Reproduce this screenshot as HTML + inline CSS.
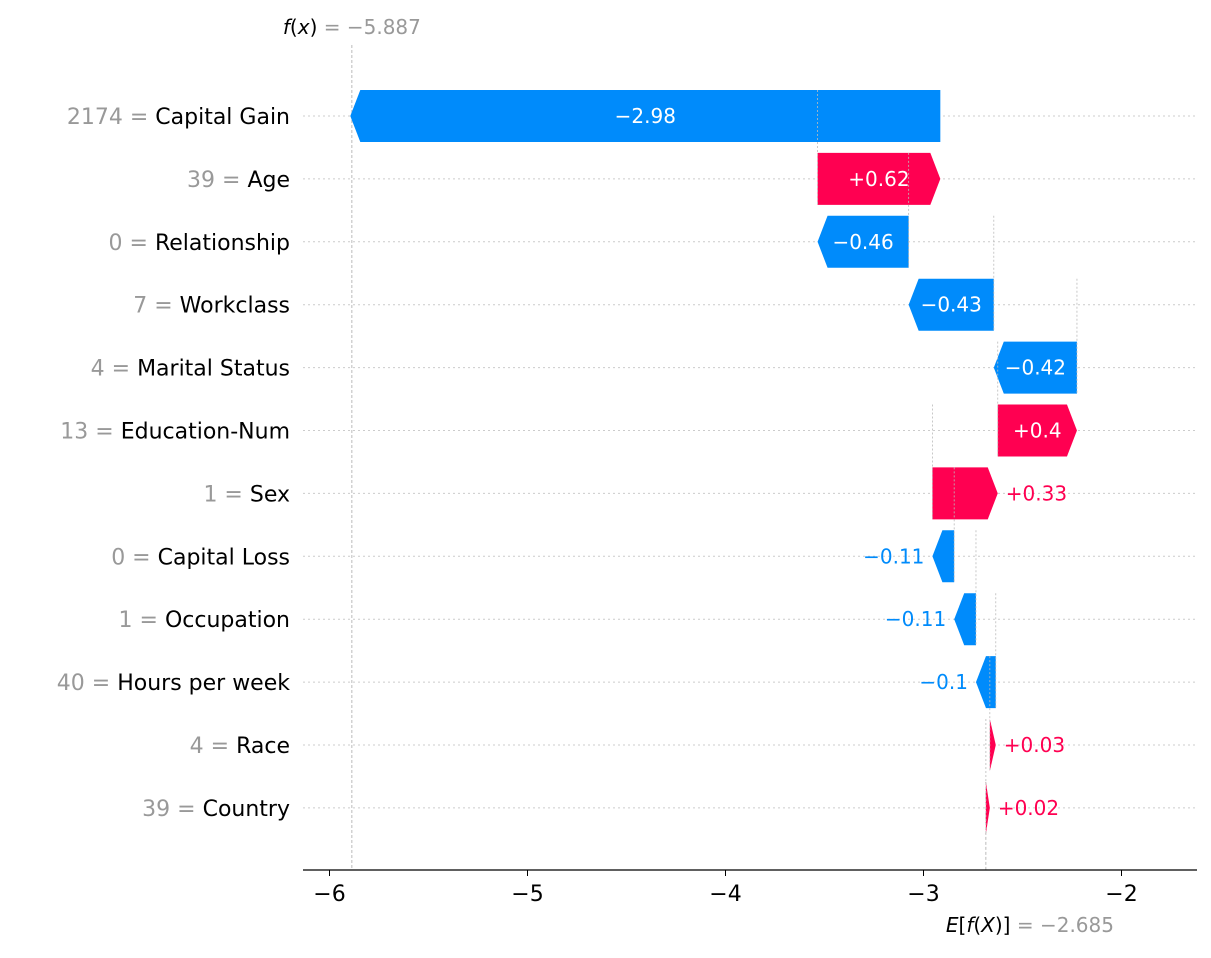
<!DOCTYPE html>
<html><head><meta charset="utf-8"><style>
body{margin:0;background:#fff}
svg{font-family:"DejaVu Sans","Liberation Sans",sans-serif}
</style></head><body>
<svg id="chart" width="1211" height="953" viewBox="0 0 1211 953" xmlns="http://www.w3.org/2000/svg"></svg>
<script>
const features = ["Capital Gain","Age","Relationship","Workclass","Marital Status","Education-Num","Sex","Capital Loss","Occupation","Hours per week","Race","Country"];
const featureValues = ["2174","39","0","7","4","13","1","0","1","40","4","39"];
const shapValues = [-2.98,0.62,-0.46,-0.43,-0.42,0.4,0.33,-0.11,-0.11,-0.1,0.03,0.02];
const baseValue = -2.685;
const fxValue = -5.887;
const xTicks = [-6,-5,-4,-3,-2];

const NS="http://www.w3.org/2000/svg";
const svg=document.getElementById('chart');
const x0=329.5, k=198;
const X=v=>x0+(v+6)*k;
const rowY=i=>116+i*62.9;
const BH=52, BLUE="#008bfb", RED="#ff0051";
function el(t,a,txt){const e=document.createElementNS(NS,t);for(const p in a)e.setAttribute(p,a[p]);if(txt!==undefined)e.textContent=txt;svg.appendChild(e);return e;}
function fmt(v){return (v<0?"\u2212":"+")+Math.abs(v).toString().replace(/^0(?=\.)/,"0");}

// grid lines
features.forEach((f,i)=>{
  const g=el('line',{x1:303,x2:1195,y1:rowY(i),y2:rowY(i),stroke:"#ccc","stroke-width":1,"stroke-dasharray":"2,3"});
  
  
});
// f(x) line
const fl=el('line',{x1:X(fxValue),x2:X(fxValue),y1:45,y2:870,stroke:"#aaa","stroke-width":0.8,"stroke-dasharray":"3,2"});


// cumulative positions from bottom
const n=features.length;
let starts=new Array(n), ends=new Array(n);
let cur=baseValue;
for(let i=n-1;i>=0;i--){starts[i]=cur;cur=cur+shapValues[i];ends[i]=cur;}
// E line
const el2=el('line',{x1:X(baseValue),x2:X(baseValue),y1:rowY(n-1)-BH/2,y2:870,stroke:"#aaa","stroke-width":0.8,"stroke-dasharray":"3,2"});


for(let i=0;i<n;i++){
  const y=rowY(i), v=shapValues[i], a=X(starts[i]), b=X(ends[i]);
  const col=v<0?BLUE:RED;
  const w=Math.abs(b-a), head=Math.min(w,10);
  const dir=v<0?-1:1;
  const t=y-BH/2, bo=y+BH/2;
  const bodyEnd=b-dir*head;
  const pts=[[a,t],[bodyEnd,t],[b,y],[bodyEnd,bo],[a,bo]].map(p=>p.join(",")).join(" ");
  const p=el('polygon',{points:pts,fill:col});
  
  
  // connector to previous row
  if(i>0){
    const c=el('line',{x1:a,x2:a,y1:rowY(i-1)+BH/2-52,y2:bo,stroke:"#bbb","stroke-width":0.8,"stroke-dasharray":"2,2"});
    
    
  }
  const txt=fmt(v);
  const tw=txt.length*11.5;
  let lab;
  if(w>tw+8){
    lab=el('text',{x:(a+b)/2,y:y+7,"text-anchor":"middle","font-size":20,fill:"#fff"},txt);
  } else {
    const far=Math.max(a,b), near=Math.min(a,b);
    if(v>0) lab=el('text',{x:far+8,y:y+7,"text-anchor":"start","font-size":20,fill:col},txt);
    else lab=el('text',{x:near-8,y:y+7,"text-anchor":"end","font-size":20,fill:col},txt);
  }
  
  
  const fl2=el('text',{x:290,y:y+8,"text-anchor":"end","font-size":22,fill:"#000"});
  
  
  const s1=document.createElementNS(NS,'tspan');s1.setAttribute('fill','#999');s1.textContent=featureValues[i]+" = ";fl2.appendChild(s1);
  const s2=document.createElementNS(NS,'tspan');s2.textContent=features[i];fl2.appendChild(s2);
}
// axis
const ax=el('line',{x1:303,x2:1197,y1:870,y2:870,stroke:"#000","stroke-width":1.2});


xTicks.forEach(tv=>{
  const tk=el('line',{x1:X(tv),x2:X(tv),y1:870,y2:876,stroke:"#000","stroke-width":1});
  
  
  const tl=el('text',{x:X(tv),y:901,"text-anchor":"middle","font-size":22},(tv<0?"\u2212":"")+Math.abs(tv));
  
  
});
const ft=el('text',{x:X(fxValue),y:34,"text-anchor":"middle","font-size":20});


ft.innerHTML='<tspan font-style="italic">f</tspan>(<tspan font-style="italic">x</tspan>)<tspan fill="#999"> = \u2212'+Math.abs(fxValue)+'</tspan>';
const et=el('text',{x:X(baseValue)-40,y:932,"text-anchor":"start","font-size":20});


et.innerHTML='<tspan font-style="italic">E</tspan>[<tspan font-style="italic">f</tspan>(<tspan font-style="italic">X</tspan>)]<tspan fill="#999"> = \u2212'+Math.abs(baseValue)+'</tspan>';
</script>
</body></html>
